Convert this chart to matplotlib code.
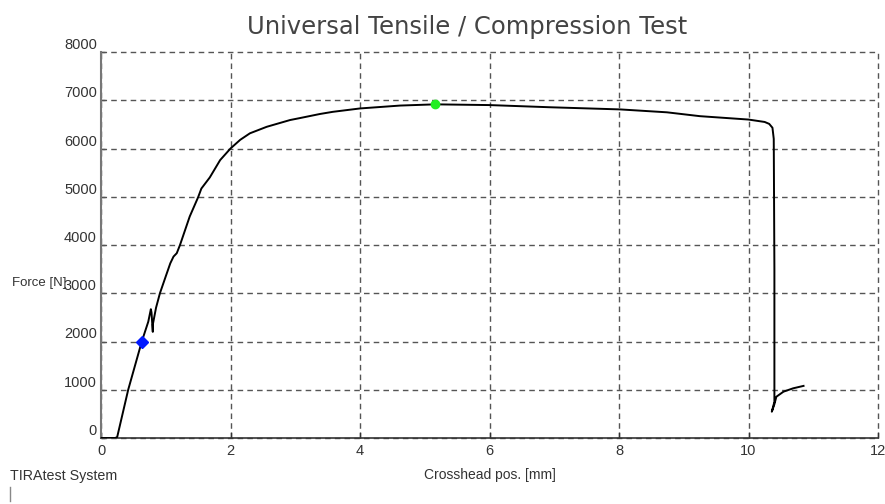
import matplotlib
matplotlib.use('Agg')
import matplotlib.pyplot as plt
from matplotlib.lines import Line2D

# Force / crosshead curve
crosshead_mm = [0.0, 0.22, 0.25, 0.42, 0.63, 0.73, 0.77, 0.78, 0.80, 0.80, 0.85, 0.91,
                1.00, 1.07, 1.12, 1.17, 1.22, 1.37, 1.50, 1.55, 1.68, 1.84, 2.00, 2.15,
                2.30, 2.56, 2.92, 3.07, 3.38, 3.58, 4.00, 4.62, 5.16, 6.00, 6.93, 8.02,
                8.74, 9.25, 10.00, 10.25, 10.32, 10.37, 10.39, 10.40, 10.40, 10.36, 10.40,
                10.43, 10.54, 10.69, 10.85]
force_n = [0, 0, 20, 1000, 2000, 2410, 2670, 2600, 2200, 2350, 2700, 3000,
           3350, 3620, 3760, 3830, 4000, 4590, 4990, 5170, 5400, 5760, 6000, 6180,
           6315, 6450, 6590, 6630, 6715, 6760, 6830, 6890, 6915, 6900, 6855, 6810,
           6750, 6670, 6600, 6550, 6510, 6430, 6200, 3500, 750, 545, 700,
           855, 960, 1030, 1080]

# marked points
blue_pt = (0.63, 2000)
green_pt = (5.16, 6915)

x_ticks = [0, 2, 4, 6, 8, 10, 12]
y_ticks = [0, 1000, 2000, 3000, 4000, 5000, 6000, 7000, 8000]

W, H = 885, 504
fig = plt.figure(figsize=(W / 100, H / 100), dpi=100)
ax = fig.add_axes([101 / W, 1 - 438 / H, 777 / W, 386 / H])

small = ['Liberation Sans Narrow', 'Liberation Sans', 'DejaVu Sans']

ax.plot(crosshead_mm, force_n, color='black', lw=1.4, solid_joinstyle='round', zorder=3)
ax.plot(*blue_pt, marker='D', color='#0018ff', ms=6, zorder=4)
ax.plot(*green_pt, marker='o', color='#22ee22', ms=6, zorder=4)

ax.set_xlim(0, 12)
ax.set_ylim(0, 8000)
ax.set_xticks(x_ticks)
ax.set_yticks(y_ticks)
ax.set_xticklabels([str(v) for v in x_ticks], family=small, fontsize=10.5, color='#333333')
ax.set_yticklabels([str(v) for v in y_ticks], family=small, fontsize=10.5, color='#333333')
for lbl in ax.get_yticklabels():
    lbl.set_verticalalignment('bottom')

ax.tick_params(axis='x', direction='in', length=4, width=1, color='#333333', pad=4)
ax.tick_params(axis='y', direction='in', length=3, width=1, color='#555555', pad=3)

ax.grid(True, color='#555555', linestyle=(0, (4, 3)), linewidth=1)
ax.set_axisbelow(True)
for s in ['top', 'right']:
    ax.spines[s].set_visible(False)
ax.spines['left'].set_color('#777777')
ax.spines['left'].set_linewidth(1.5)
ax.spines['bottom'].set_color('#333333')
ax.spines['bottom'].set_linewidth(1.2)
for ln in ax.get_xgridlines() + ax.get_ygridlines():
    ln.set_clip_on(False)

fig.text(467 / W, 1 - 27 / H, 'Universal Tensile / Compression Test',
         ha='center', va='center', fontsize=17.5, color='#444444')
fig.text(12 / W, 1 - 283 / H, 'Force [N]', ha='left', va='center',
         family=small, fontsize=9.5, color='#333333')
fig.text(490 / W, 1 - 475 / H, 'Crosshead pos. [mm]', ha='center', va='center',
         family=small, fontsize=10, color='#333333')
fig.text(10 / W, 1 - 476 / H, 'TIRAtest System', ha='left', va='center',
         family=small, fontsize=10.3, color='#333333')
fig.add_artist(Line2D([10 / W, 10 / W], [1 - 487 / H, 1 - 501 / H], color='#888888', lw=1))

fig.savefig('out.png', dpi=100)
